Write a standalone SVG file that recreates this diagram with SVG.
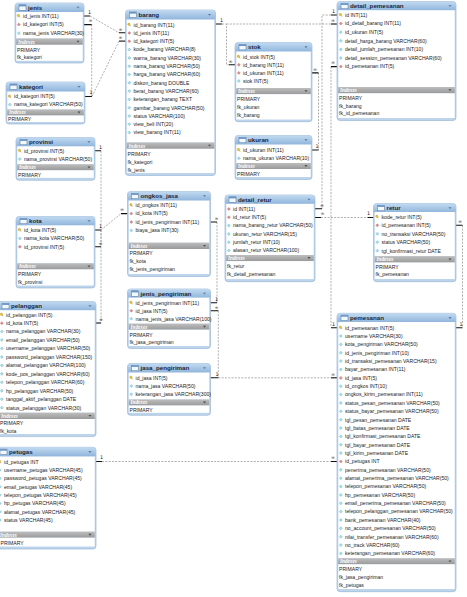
<svg xmlns="http://www.w3.org/2000/svg" width="467" height="597" viewBox="0 0 467 597">
<defs>
<linearGradient id="hg" x1="0" y1="0" x2="0" y2="1"><stop offset="0" stop-color="#c2daf1"/><stop offset="1" stop-color="#8db3da"/></linearGradient>
<linearGradient id="ig" x1="0" y1="0" x2="0" y2="1"><stop offset="0" stop-color="#bdbdbd"/><stop offset="1" stop-color="#9a9a9a"/></linearGradient>
<g id="pk"><circle cx="-0.4" cy="-0.5" r="1.2" fill="#f2c531" stroke="#a9850f" stroke-width="0.3"/><path d="M0.3 0.2 L1.3 1.6" stroke="#a9850f" stroke-width="0.6"/></g>
<g id="fk"><path d="M0 -1.5 L1.5 0 L0 1.5 L-1.5 0Z" fill="#e68c8c" stroke="#b04848" stroke-width="0.35"/></g>
<g id="co"><path d="M0 -1.5 L1.5 0 L0 1.5 L-1.5 0Z" fill="#a8e3e6" stroke="#3c9fae" stroke-width="0.35"/></g>
<g id="ti"><rect x="0" y="0" width="7" height="5.5" fill="#f2f7fc" stroke="#4b70a0" stroke-width="0.5"/><rect x="0" y="0" width="7" height="1.6" fill="#6a93c4"/></g>
<path id="tr" d="M-1.6 -0.9 H1.6 L0 1Z"/>
</defs>
<style>
.box{fill:#bdd4eb;stroke:#8fb0d2;stroke-width:0.6}
.hd{fill:url(#hg)}
.pn{fill:#ffffff}
.ix{fill:url(#ig)}
.tt{font-family:"Liberation Sans",Arial,sans-serif;font-size:6.2px;font-weight:bold;fill:#1c2736}
.c{font-family:"Liberation Sans",Arial,sans-serif;font-size:5.1px;fill:#222}
.ixt{font-family:"Liberation Serif","Times New Roman",serif;font-size:5.2px;font-style:italic;font-weight:bold;fill:#ffffff}
.trh{fill:#5a7ca6}
.tri{fill:#505050}
.lb{font-family:"DejaVu Sans",sans-serif;font-size:4.8px;fill:#111}
.dl{fill:none;stroke:#7a7a7a;stroke-width:0.6;stroke-dasharray:2 1.3}
.st{fill:none;stroke:#111;stroke-width:1.1}
</style>
<rect width="467" height="597" fill="#ffffff"/>

<!-- relationship lines -->
<g id="connectors">
<!-- jenis 1 : n barang -->
<path class="dl" d="M90 16 L119 32.8"/>
<path class="st" d="M84 16 H90 M119 32.8 H125.5"/>
<text class="lb" x="88" y="13.8">1</text><text class="lb" x="118.5" y="30.6">∞</text>
<!-- kategori 1 : n jenis -->
<path class="dl" d="M91.7 24.6 V96.5"/>
<path class="st" d="M84 24.6 H91.7 M85 96.5 H92"/>
<text class="lb" x="88.5" y="22.4">∞</text><text class="lb" x="89.5" y="94.4">1</text>
<!-- kategori 1 : n barang -->
<path class="dl" d="M92 96.5 L119 41.1"/>
<path class="st" d="M119 41.1 H125.5"/>
<text class="lb" x="118.5" y="38.9">∞</text>
<!-- barang 1 : n stok -->
<path class="dl" d="M222 24 H226.5 V64.8 H229"/>
<path class="st" d="M215.5 24 H222 M229 64.8 H235"/>
<text class="lb" x="220" y="21.8">1</text><text class="lb" x="228.5" y="62.6">∞</text>
<!-- barang 1 : n detail_pemesanan -->
<path class="dl" d="M226.5 24 H331"/>
<path class="st" d="M331 24 H337"/>
<text class="lb" x="331" y="21.8">∞</text>
<!-- detail_pemesanan 1 : n detail_retur -->
<path class="dl" d="M331 15 H322 V208.8"/>
<path class="st" d="M331 15 H337 M315 208.8 H322"/>
<text class="lb" x="332" y="12.8">1</text><text class="lb" x="320" y="206.6">∞</text>
<!-- pemesanan 1 : n detail_pemesanan -->
<path class="dl" d="M331 66.6 V327.7"/>
<path class="st" d="M331 66.6 H337 M331 327.7 H337"/>
<text class="lb" x="331" y="64.4">∞</text><text class="lb" x="332" y="325.5">1</text>
<!-- ukuran 1 : n stok -->
<path class="dl" d="M318.5 72.9 V150"/>
<path class="st" d="M312 72.9 H318.5 M312 150 H318.5"/>
<text class="lb" x="313" y="70.7">∞</text><text class="lb" x="315.5" y="147.8">1</text>
<!-- retur 1 : n detail_retur -->
<path class="dl" d="M321 217.5 H367.5"/>
<path class="st" d="M315 217.5 H321 M367.5 217.5 H373.5"/>
<text class="lb" x="320.5" y="215.3">∞</text><text class="lb" x="367" y="215.3">1</text>
<!-- pemesanan 1 : n retur -->
<path class="dl" d="M462.5 225.3 V327.7"/>
<path class="st" d="M456 225.3 H462.5 M456 327.7 H462.5"/>
<text class="lb" x="458" y="223.1">∞</text><text class="lb" x="459.5" y="325.5">1</text>
<!-- provinsi 1 : n kota -->
<path class="dl" d="M101 150.8 V246.8"/>
<path class="st" d="M95 150.8 H101 M95 246.8 H101"/>
<text class="lb" x="99" y="148.6">1</text><text class="lb" x="98.5" y="244.6">∞</text>
<!-- kota 1 : n ongkos_jasa -->
<path class="dl" d="M101 230 L121 213.6"/>
<path class="st" d="M95 230 H101 M121 213.6 H127.5"/>
<text class="lb" x="99" y="227.8">1</text><text class="lb" x="120" y="211.4">∞</text>
<!-- kota 1 : n pelanggan -->
<path class="dl" d="M101 230 V323"/>
<path class="st" d="M96 323 H101"/>
<text class="lb" x="99" y="320.8">∞</text>
<!-- jenis_pengiriman 1 : n ongkos_jasa -->
<path class="dl" d="M217 222 V302.7"/>
<path class="st" d="M210.5 222 H217 M210.5 302.7 H217"/>
<text class="lb" x="214.5" y="219.8">∞</text><text class="lb" x="215" y="300.5">1</text>
<!-- jasa_pengiriman 1 : n jenis_pengiriman -->
<path class="dl" d="M218.3 310.7 V377.8"/>
<path class="st" d="M210.5 310.7 H218.3 M210.5 377.8 H218.3"/>
<text class="lb" x="214.5" y="308.5">∞</text><text class="lb" x="215.5" y="375.6">1</text>
<!-- jasa_pengiriman 1 : n pemesanan -->
<path class="dl" d="M218.3 377.8 H331"/>
<path class="st" d="M331 377.8 H337"/>
<text class="lb" x="331" y="375.6">∞</text>
<!-- petugas 1 : n pemesanan -->
<path class="dl" d="M102 461.5 H331"/>
<path class="st" d="M96 461.5 H102 M331 461.5 H337"/>
<text class="lb" x="100" y="459.3">1</text><text class="lb" x="331" y="459.3">∞</text>
</g>

<!-- jenis -->
<g id="tbl-jenis">
<rect class="box" x="15" y="3" width="69" height="60" rx="3"/>
<rect class="hd" x="15" y="3" width="69" height="9.5" rx="3"/>
<use href="#ti" x="19" y="4.8"/>
<text class="tt" x="28" y="9.8">jenis</text>
<use href="#tr" class="trh" x="78" y="7.6"/>
<rect class="pn" x="16.3" y="12" width="66.4" height="26.5"/>
<use href="#pk" x="18.8" y="16"/><text class="c" x="23" y="17.8">id_jenis INT(11)</text>
<use href="#fk" x="18.8" y="24.6"/><text class="c" x="23" y="26.4">id_kategori INT(5)</text>
<use href="#co" x="18.8" y="33.2"/><text class="c" x="23" y="35">nama_jenis VARCHAR(30)</text>
<rect class="ix" x="16.3" y="38.5" width="66.4" height="6.3"/>
<text class="ixt" x="18" y="43.6">Indexes</text>
<use href="#tr" class="tri" x="78" y="41.6"/>
<rect class="pn" x="16.3" y="44.8" width="66.4" height="16"/>
<text class="c" x="17" y="51.8">PRIMARY</text>
<text class="c" x="17" y="59.3">fk_kategori</text>
</g>

<!-- kategori -->
<g id="tbl-kategori">
<rect class="box" x="6" y="82" width="79" height="42" rx="3"/>
<rect class="hd" x="6" y="82" width="79" height="10" rx="3"/>
<use href="#ti" x="10" y="84"/>
<text class="tt" x="19" y="89">kategori</text>
<use href="#tr" class="trh" x="79" y="86.8"/>
<rect class="pn" x="7.3" y="91.5" width="76.4" height="18"/>
<use href="#pk" x="9.8" y="96.5"/><text class="c" x="14" y="98.3">id_kategori INT(5)</text>
<use href="#co" x="9.8" y="104.6"/><text class="c" x="14" y="106.4">nama_kategori VARCHAR(50)</text>
<rect class="ix" x="7.3" y="109.5" width="76.4" height="6"/>
<text class="ixt" x="9" y="114.4">Indexes</text>
<use href="#tr" class="tri" x="79" y="112.5"/>
<rect class="pn" x="7.3" y="115.5" width="76.4" height="6.5"/>
<text class="c" x="8" y="121">PRIMARY</text>
</g>

<!-- barang -->
<g id="tbl-barang">
<rect class="box" x="125.5" y="10" width="90" height="165.5" rx="3"/>
<rect class="hd" x="125.5" y="10" width="90" height="10" rx="3"/>
<use href="#ti" x="129.5" y="12"/>
<text class="tt" x="138.5" y="17">barang</text>
<use href="#tr" class="trh" x="209.5" y="14.8"/>
<rect class="pn" x="126.8" y="19.5" width="87.4" height="123"/>
<use href="#pk" x="129.3" y="24.7"/><text class="c" x="133.5" y="26.5">id_barang INT(11)</text>
<use href="#fk" x="129.3" y="33"/><text class="c" x="133.5" y="34.8">id_jenis INT(11)</text>
<use href="#fk" x="129.3" y="41.3"/><text class="c" x="133.5" y="43.1">id_kategori INT(5)</text>
<use href="#co" x="129.3" y="49.6"/><text class="c" x="133.5" y="51.4">kode_barang VARCHAR(8)</text>
<use href="#co" x="129.3" y="57.9"/><text class="c" x="133.5" y="59.7">warna_barang VARCHAR(30)</text>
<use href="#co" x="129.3" y="66.2"/><text class="c" x="133.5" y="68">nama_barang VARCHAR(50)</text>
<use href="#co" x="129.3" y="74.5"/><text class="c" x="133.5" y="76.3">harga_barang VARCHAR(60)</text>
<use href="#co" x="129.3" y="82.8"/><text class="c" x="133.5" y="84.6">diskon_barang DOUBLE</text>
<use href="#co" x="129.3" y="91.1"/><text class="c" x="133.5" y="92.9">berat_barang VARCHAR(60)</text>
<use href="#co" x="129.3" y="99.4"/><text class="c" x="133.5" y="101.2">keterangan_barang TEXT</text>
<use href="#co" x="129.3" y="107.7"/><text class="c" x="133.5" y="109.5">gambar_barang VARCHAR(50)</text>
<use href="#co" x="129.3" y="116"/><text class="c" x="133.5" y="117.8">status VARCHAR(100)</text>
<use href="#co" x="129.3" y="124.3"/><text class="c" x="133.5" y="126.1">view_beli INT(20)</text>
<use href="#co" x="129.3" y="132.6"/><text class="c" x="133.5" y="134.4">view_barang INT(11)</text>
<rect class="ix" x="126.8" y="142.5" width="87.4" height="6.3"/>
<text class="ixt" x="128.5" y="147.6">Indexes</text>
<use href="#tr" class="tri" x="209.5" y="145.6"/>
<rect class="pn" x="126.8" y="148.8" width="87.4" height="24.2"/>
<text class="c" x="127.5" y="156.1">PRIMARY</text>
<text class="c" x="127.5" y="164.1">fk_kategori</text>
<text class="c" x="127.5" y="172.1">fk_jenis</text>
</g>

<!-- stok -->
<g id="tbl-stok">
<rect class="box" x="235" y="42.5" width="77" height="79.2" rx="3"/>
<rect class="hd" x="235" y="42.5" width="77" height="9.8" rx="3"/>
<use href="#ti" x="239" y="44.4"/>
<text class="tt" x="248" y="49.4">stok</text>
<use href="#tr" class="trh" x="306" y="47.2"/>
<rect class="pn" x="236.3" y="51.5" width="74.4" height="36.5"/>
<use href="#pk" x="238.8" y="56.7"/><text class="c" x="243" y="58.5">id_stok INT(5)</text>
<use href="#fk" x="238.8" y="64.8"/><text class="c" x="243" y="66.6">id_barang INT(11)</text>
<use href="#fk" x="238.8" y="72.9"/><text class="c" x="243" y="74.7">id_ukuran INT(11)</text>
<use href="#co" x="238.8" y="81"/><text class="c" x="243" y="82.8">stok INT(5)</text>
<rect class="ix" x="236.3" y="88" width="74.4" height="6.2"/>
<text class="ixt" x="238" y="93">Indexes</text>
<use href="#tr" class="tri" x="306" y="91.1"/>
<rect class="pn" x="236.3" y="94.2" width="74.4" height="25.3"/>
<text class="c" x="237" y="101.3">PRIMARY</text>
<text class="c" x="237" y="109.1">fk_ukuran</text>
<text class="c" x="237" y="116.9">fk_barang</text>
</g>

<!-- ukuran -->
<g id="tbl-ukuran">
<rect class="box" x="235" y="135.5" width="77" height="44" rx="3"/>
<rect class="hd" x="235" y="135.5" width="77" height="9.5" rx="3"/>
<use href="#ti" x="239" y="137.3"/>
<text class="tt" x="248" y="142.3">ukuran</text>
<use href="#tr" class="trh" x="306" y="140.1"/>
<rect class="pn" x="236.3" y="144.5" width="74.4" height="18.5"/>
<use href="#pk" x="238.8" y="150"/><text class="c" x="243" y="151.8">id_ukuran INT(11)</text>
<use href="#co" x="238.8" y="158.3"/><text class="c" x="243" y="160.1">nama_ukuran VARCHAR(10)</text>
<rect class="ix" x="236.3" y="163" width="74.4" height="6"/>
<text class="ixt" x="238" y="167.9">Indexes</text>
<use href="#tr" class="tri" x="306" y="166"/>
<rect class="pn" x="236.3" y="169" width="74.4" height="8"/>
<text class="c" x="237" y="175.6">PRIMARY</text>
</g>

<!-- detail_pemesanan -->
<g id="tbl-detail_pemesanan">
<rect class="box" x="337" y="1.5" width="119" height="119" rx="3"/>
<rect class="hd" x="337" y="1.5" width="119" height="9.5" rx="3"/>
<use href="#ti" x="341" y="3.3"/>
<text class="tt" x="350" y="8.4">detail_pemesanan</text>
<use href="#tr" class="trh" x="450" y="6.1"/>
<rect class="pn" x="338.3" y="10.2" width="116.4" height="76.8"/>
<use href="#pk" x="340.8" y="15"/><text class="c" x="345" y="16.8">id INT(11)</text>
<use href="#fk" x="340.8" y="23.6"/><text class="c" x="345" y="25.4">id_detail_barang INT(11)</text>
<use href="#co" x="340.8" y="32.2"/><text class="c" x="345" y="34">id_ukuran INT(5)</text>
<use href="#co" x="340.8" y="40.8"/><text class="c" x="345" y="42.6">detail_harga_barang VARCHAR(60)</text>
<use href="#co" x="340.8" y="49.4"/><text class="c" x="345" y="51.2">detail_jumlah_pemesanan INT(10)</text>
<use href="#co" x="340.8" y="58"/><text class="c" x="345" y="59.8">detail_session_pemesanan VARCHAR(60)</text>
<use href="#fk" x="340.8" y="66.6"/><text class="c" x="345" y="68.4">id_pemesanan INT(5)</text>
<rect class="ix" x="338.3" y="87" width="116.4" height="6.3"/>
<text class="ixt" x="340" y="92.1">Indexes</text>
<use href="#tr" class="tri" x="450" y="90.1"/>
<rect class="pn" x="338.3" y="93.3" width="116.4" height="24.7"/>
<text class="c" x="339" y="100.1">PRIMARY</text>
<text class="c" x="339" y="107.7">fk_barang</text>
<text class="c" x="339" y="115.4">fk_id_pemesanan</text>
</g>

<!-- provinsi -->
<g id="tbl-provinsi">
<rect class="box" x="16" y="137.5" width="79" height="42.8" rx="3"/>
<rect class="hd" x="16" y="137.5" width="79" height="9.5" rx="3"/>
<use href="#ti" x="20" y="139.3"/>
<text class="tt" x="29" y="144.4">provinsi</text>
<use href="#tr" class="trh" x="89" y="142.1"/>
<rect class="pn" x="17.3" y="146.3" width="76.4" height="18"/>
<use href="#pk" x="19.8" y="150.8"/><text class="c" x="24" y="152.6">id_provinsi INT(5)</text>
<use href="#co" x="19.8" y="159.1"/><text class="c" x="24" y="160.9">nama_provinsi VARCHAR(50)</text>
<rect class="ix" x="17.3" y="164.3" width="76.4" height="6"/>
<text class="ixt" x="19" y="169.2">Indexes</text>
<use href="#tr" class="tri" x="89" y="167.3"/>
<rect class="pn" x="17.3" y="170.3" width="76.4" height="7.5"/>
<text class="c" x="18" y="176.8">PRIMARY</text>
</g>

<!-- kota -->
<g id="tbl-kota">
<rect class="box" x="16" y="216.5" width="79" height="71.5" rx="3"/>
<rect class="hd" x="16" y="216.5" width="79" height="9.5" rx="3"/>
<use href="#ti" x="20" y="218.3"/>
<text class="tt" x="29" y="223.4">kota</text>
<use href="#tr" class="trh" x="89" y="221.1"/>
<rect class="pn" x="17.3" y="225.3" width="76.4" height="38"/>
<use href="#pk" x="19.8" y="230"/><text class="c" x="24" y="231.8">id_kota INT(5)</text>
<use href="#co" x="19.8" y="238.4"/><text class="c" x="24" y="240.2">nama_kota VARCHAR(50)</text>
<use href="#fk" x="19.8" y="246.8"/><text class="c" x="24" y="248.6">id_provinsi INT(5)</text>
<rect class="ix" x="17.3" y="263.3" width="76.4" height="6.1"/>
<text class="ixt" x="19" y="268.3">Indexes</text>
<use href="#tr" class="tri" x="89" y="266.3"/>
<rect class="pn" x="17.3" y="269.4" width="76.4" height="16.1"/>
<text class="c" x="18" y="276.2">PRIMARY</text>
<text class="c" x="18" y="283.9">fk_provinsi</text>
</g>

<!-- ongkos_jasa -->
<g id="tbl-ongkos_jasa">
<rect class="box" x="127.5" y="191.5" width="83" height="85" rx="3"/>
<rect class="hd" x="127.5" y="191.5" width="83" height="9.5" rx="3"/>
<use href="#ti" x="131.5" y="193.3"/>
<text class="tt" x="140.5" y="198.4">ongkos_jasa</text>
<use href="#tr" class="trh" x="204.5" y="196.1"/>
<rect class="pn" x="128.8" y="200.5" width="80.4" height="42.2"/>
<use href="#pk" x="131.3" y="205.2"/><text class="c" x="135.5" y="207">id_ongkos INT(11)</text>
<use href="#fk" x="131.3" y="213.6"/><text class="c" x="135.5" y="215.4">id_kota INT(5)</text>
<use href="#fk" x="131.3" y="222"/><text class="c" x="135.5" y="223.8">id_jenis_pengiriman INT(11)</text>
<use href="#co" x="131.3" y="230.4"/><text class="c" x="135.5" y="232.2">biaya_jasa INT(30)</text>
<rect class="ix" x="128.8" y="242.7" width="80.4" height="6.3"/>
<text class="ixt" x="130.5" y="247.8">Indexes</text>
<use href="#tr" class="tri" x="204.5" y="245.8"/>
<rect class="pn" x="128.8" y="249" width="80.4" height="25"/>
<text class="c" x="129.5" y="255.2">PRIMARY</text>
<text class="c" x="129.5" y="263">fk_kota</text>
<text class="c" x="129.5" y="271">fk_jenis_pengiriman</text>
</g>

<!-- jenis_pengiriman -->
<g id="tbl-jenis_pengiriman">
<rect class="box" x="127.5" y="289" width="83" height="59.5" rx="3"/>
<rect class="hd" x="127.5" y="289" width="83" height="9.5" rx="3"/>
<use href="#ti" x="131.5" y="290.8"/>
<text class="tt" x="140.5" y="295.9">jenis_pengiriman</text>
<use href="#tr" class="trh" x="204.5" y="293.6"/>
<rect class="pn" x="128.8" y="297.6" width="80.4" height="26.1"/>
<use href="#pk" x="131.3" y="302.7"/><text class="c" x="135.5" y="304.5">id_jenis_pengiriman INT(11)</text>
<use href="#fk" x="131.3" y="310.7"/><text class="c" x="135.5" y="312.5">id_jasa INT(5)</text>
<use href="#co" x="131.3" y="318.7"/><text class="c" x="135.5" y="320.5">nama_jenis_jasa VARCHAR(100)</text>
<rect class="ix" x="128.8" y="323.7" width="80.4" height="6"/>
<text class="ixt" x="130.5" y="328.6">Indexes</text>
<use href="#tr" class="tri" x="204.5" y="326.7"/>
<rect class="pn" x="128.8" y="329.7" width="80.4" height="16.3"/>
<text class="c" x="129.5" y="336.6">PRIMARY</text>
<text class="c" x="129.5" y="344.4">fk_jasa_pengiriman</text>
</g>

<!-- jasa_pengiriman -->
<g id="tbl-jasa_pengiriman">
<rect class="box" x="127.5" y="363.5" width="83" height="51.8" rx="3"/>
<rect class="hd" x="127.5" y="363.5" width="83" height="9.5" rx="3"/>
<use href="#ti" x="131.5" y="365.3"/>
<text class="tt" x="140.5" y="370.4">jasa_pengiriman</text>
<use href="#tr" class="trh" x="204.5" y="368.1"/>
<rect class="pn" x="128.8" y="372.5" width="80.4" height="27"/>
<use href="#pk" x="131.3" y="377.7"/><text class="c" x="135.5" y="379.5">id_jasa INT(5)</text>
<use href="#co" x="131.3" y="386"/><text class="c" x="135.5" y="387.8">nama_jasa VARCHAR(50)</text>
<use href="#co" x="131.3" y="394.3"/><text class="c" x="135.5" y="396.1">keterangan_jasa VARCHAR(300)</text>
<rect class="ix" x="128.8" y="399.5" width="80.4" height="6"/>
<text class="ixt" x="130.5" y="404.4">Indexes</text>
<use href="#tr" class="tri" x="204.5" y="402.5"/>
<rect class="pn" x="128.8" y="405.5" width="80.4" height="7.3"/>
<text class="c" x="129.5" y="412">PRIMARY</text>
</g>

<!-- detail_retur -->
<g id="tbl-detail_retur">
<rect class="box" x="225" y="195" width="90" height="86.7" rx="3"/>
<rect class="hd" x="225" y="195" width="90" height="9.5" rx="3"/>
<use href="#ti" x="229" y="196.8"/>
<text class="tt" x="238" y="201.9">detail_retur</text>
<use href="#tr" class="trh" x="309" y="199.6"/>
<rect class="pn" x="226.3" y="203.8" width="87.4" height="51.2"/>
<use href="#fk" x="228.8" y="209"/><text class="c" x="233" y="210.8">id INT(11)</text>
<use href="#fk" x="228.8" y="217.3"/><text class="c" x="233" y="219.1">id_retur INT(5)</text>
<use href="#co" x="228.8" y="225.6"/><text class="c" x="233" y="227.4">nama_barang_retur VARCHAR(50)</text>
<use href="#co" x="228.8" y="233.9"/><text class="c" x="233" y="235.7">ukuran_retur VARCHAR(15)</text>
<use href="#co" x="228.8" y="242.2"/><text class="c" x="233" y="244">jumlah_retur INT(10)</text>
<use href="#co" x="228.8" y="250.5"/><text class="c" x="233" y="252.3">alasan_retur VARCHAR(100)</text>
<rect class="ix" x="226.3" y="255" width="87.4" height="6.1"/>
<text class="ixt" x="228" y="260">Indexes</text>
<use href="#tr" class="tri" x="309" y="258"/>
<rect class="pn" x="226.3" y="261.1" width="87.4" height="18"/>
<text class="c" x="227" y="267.8">fk_retur</text>
<text class="c" x="227" y="276.1">fk_detail_pemesanan</text>
</g>

<!-- retur -->
<g id="tbl-retur">
<rect class="box" x="373.5" y="203.5" width="82.5" height="78.2" rx="3"/>
<rect class="hd" x="373.5" y="203.5" width="82.5" height="9.5" rx="3"/>
<use href="#ti" x="377.5" y="205.3"/>
<text class="tt" x="386.5" y="210.4">retur</text>
<use href="#tr" class="trh" x="450" y="208.1"/>
<rect class="pn" x="374.8" y="212" width="79.9" height="44.2"/>
<use href="#pk" x="377.3" y="216.8"/><text class="c" x="381.5" y="218.6">kode_retur INT(5)</text>
<use href="#fk" x="377.3" y="225.3"/><text class="c" x="381.5" y="227.1">id_pemesanan INT(5)</text>
<use href="#co" x="377.3" y="233.8"/><text class="c" x="381.5" y="235.6">no_transaksi VARCHAR(50)</text>
<use href="#co" x="377.3" y="242.2"/><text class="c" x="381.5" y="244">status VARCHAR(50)</text>
<use href="#co" x="377.3" y="250.7"/><text class="c" x="381.5" y="252.5">tgl_konfirmasi_retur DATE</text>
<rect class="ix" x="374.8" y="256.2" width="79.9" height="6.3"/>
<text class="ixt" x="376.5" y="261.3">Indexes</text>
<use href="#tr" class="tri" x="450" y="259.3"/>
<rect class="pn" x="374.8" y="262.5" width="79.9" height="16.5"/>
<text class="c" x="375.5" y="268.5">PRIMARY</text>
<text class="c" x="375.5" y="276.2">fk_pemesanan</text>
</g>

<!-- pelanggan -->
<g id="tbl-pelanggan">
<rect class="box" x="-2" y="301.5" width="98" height="135.1" rx="3"/>
<rect class="hd" x="-2" y="301.5" width="98" height="9.5" rx="3"/>
<use href="#ti" x="2" y="303.3"/>
<text class="tt" x="11" y="308.4">pelanggan</text>
<use href="#tr" class="trh" x="90" y="306.1"/>
<rect class="pn" x="-0.7" y="310.2" width="95.4" height="102.5"/>
<use href="#pk" x="1.8" y="314.7"/><text class="c" x="6" y="316.5">id_pelanggan INT(5)</text>
<use href="#fk" x="1.8" y="323.15"/><text class="c" x="6" y="325">id_kota INT(5)</text>
<use href="#co" x="1.8" y="331.6"/><text class="c" x="6" y="333.4">nama_pelanggan VARCHAR(30)</text>
<use href="#co" x="1.8" y="340.05"/><text class="c" x="6" y="341.9">email_pelanggan VARCHAR(50)</text>
<use href="#co" x="1.8" y="348.5"/><text class="c" x="6" y="350.3">username_pelanggan VARCHAR(50)</text>
<use href="#co" x="1.8" y="356.95"/><text class="c" x="6" y="358.8">password_pelanggan VARCHAR(150)</text>
<use href="#co" x="1.8" y="365.4"/><text class="c" x="6" y="367.2">alamat_pelanggan VARCHAR(100)</text>
<use href="#co" x="1.8" y="373.85"/><text class="c" x="6" y="375.7">kode_pos_pelanggan VARCHAR(60)</text>
<use href="#co" x="1.8" y="382.3"/><text class="c" x="6" y="384.1">telepon_pelanggan VARCHAR(60)</text>
<use href="#co" x="1.8" y="390.75"/><text class="c" x="6" y="392.6">hp_pelanggan VARCHAR(50)</text>
<use href="#co" x="1.8" y="399.2"/><text class="c" x="6" y="401">tanggal_aktif_pelanggan DATE</text>
<use href="#co" x="1.8" y="407.65"/><text class="c" x="6" y="409.5">status_pelanggan VARCHAR(30)</text>
<rect class="ix" x="-0.7" y="412.7" width="95.4" height="6.3"/>
<text class="ixt" x="1" y="417.8">Indexes</text>
<use href="#tr" class="tri" x="90" y="415.8"/>
<rect class="pn" x="-0.7" y="419" width="95.4" height="15"/>
<text class="c" x="0" y="425.1">PRIMARY</text>
<text class="c" x="0" y="432.8">fk_kota</text>
</g>

<!-- petugas -->
<g id="tbl-petugas">
<rect class="box" x="-4" y="447.3" width="100" height="101.7" rx="3"/>
<rect class="hd" x="-4" y="447.3" width="100" height="9.5" rx="3"/>
<use href="#ti" x="0" y="449.1"/>
<text class="tt" x="9" y="454.2">petugas</text>
<use href="#tr" class="trh" x="90" y="451.9"/>
<rect class="pn" x="-2.7" y="456.5" width="97.4" height="75.2"/>
<use href="#pk" x="-0.2" y="461.7"/><text class="c" x="4" y="463.5">id_petugas INT</text>
<use href="#co" x="-0.2" y="470"/><text class="c" x="4" y="471.8">username_petugas VARCHAR(45)</text>
<use href="#co" x="-0.2" y="478.4"/><text class="c" x="4" y="480.2">password_petugas VARCHAR(45)</text>
<use href="#co" x="-0.2" y="486.7"/><text class="c" x="4" y="488.5">email_petugas VARCHAR(45)</text>
<use href="#co" x="-0.2" y="495"/><text class="c" x="4" y="496.8">telepon_petugas VARCHAR(45)</text>
<use href="#co" x="-0.2" y="503.4"/><text class="c" x="4" y="505.2">hp_petugas VARCHAR(45)</text>
<use href="#co" x="-0.2" y="511.7"/><text class="c" x="4" y="513.5">alamat_petugas VARCHAR(45)</text>
<use href="#co" x="-0.2" y="520"/><text class="c" x="4" y="521.8">status VARCHAR(45)</text>
<rect class="ix" x="-2.7" y="531.7" width="97.4" height="6"/>
<text class="ixt" x="0" y="536.6">Indexes</text>
<use href="#tr" class="tri" x="90" y="534.7"/>
<rect class="pn" x="-2.7" y="537.7" width="97.4" height="8.8"/>
<text class="c" x="0.5" y="545.1">PRIMARY</text>
</g>

<!-- pemesanan -->
<g id="tbl-pemesanan">
<rect class="box" x="337" y="313.3" width="119" height="278.4" rx="3"/>
<rect class="hd" x="337" y="313.3" width="119" height="9.5" rx="3"/>
<use href="#ti" x="341" y="315.1"/>
<text class="tt" x="350" y="320.2">pemesanan</text>
<use href="#tr" class="trh" x="450" y="317.9"/>
<rect class="pn" x="338.3" y="322" width="116.4" height="236.3"/>
<use href="#pk" x="340.8" y="327.7"/><text class="c" x="345" y="329.5">id_pemesanan INT(5)</text>
<use href="#co" x="340.8" y="336.1"/><text class="c" x="345" y="337.9">username VARCHAR(30)</text>
<use href="#co" x="340.8" y="344.4"/><text class="c" x="345" y="346.2">kota_pengiriman VARCHAR(50)</text>
<use href="#co" x="340.8" y="352.8"/><text class="c" x="345" y="354.6">id_jenis_pengiriman INT(10)</text>
<use href="#co" x="340.8" y="361.1"/><text class="c" x="345" y="362.9">id_transaksi_pemesanan VARCHAR(15)</text>
<use href="#co" x="340.8" y="369.5"/><text class="c" x="345" y="371.3">bayar_pemesanan INT(11)</text>
<use href="#fk" x="340.8" y="377.9"/><text class="c" x="345" y="379.7">id_jasa INT(5)</text>
<use href="#co" x="340.8" y="386.2"/><text class="c" x="345" y="388">id_ongkos INT(10)</text>
<use href="#co" x="340.8" y="394.6"/><text class="c" x="345" y="396.4">ongkos_kirim_pemesanan INT(11)</text>
<use href="#co" x="340.8" y="402.9"/><text class="c" x="345" y="404.7">status_pesan_pemesanan VARCHAR(50)</text>
<use href="#co" x="340.8" y="411.3"/><text class="c" x="345" y="413.1">status_bayar_pemesanan VARCHAR(50)</text>
<use href="#co" x="340.8" y="419.7"/><text class="c" x="345" y="421.5">tgl_pesan_pemesanan DATE</text>
<use href="#co" x="340.8" y="428"/><text class="c" x="345" y="429.8">tgl_batas_pemesanan DATE</text>
<use href="#co" x="340.8" y="436.4"/><text class="c" x="345" y="438.2">tgl_konfirmasi_pemesanan DATE</text>
<use href="#co" x="340.8" y="444.7"/><text class="c" x="345" y="446.5">tgl_bayar_pemesanan DATE</text>
<use href="#co" x="340.8" y="453.1"/><text class="c" x="345" y="454.9">tgl_kirim_pemesanan DATE</text>
<use href="#fk" x="340.8" y="461.5"/><text class="c" x="345" y="463.3">id_petugas INT</text>
<use href="#co" x="340.8" y="469.8"/><text class="c" x="345" y="471.6">penerima_pemesanan VARCHAR(50)</text>
<use href="#co" x="340.8" y="478.2"/><text class="c" x="345" y="480">alamat_penerima_pemesanan VARCHAR(50)</text>
<use href="#co" x="340.8" y="486.5"/><text class="c" x="345" y="488.3">telepon_pemesanan VARCHAR(50)</text>
<use href="#co" x="340.8" y="494.9"/><text class="c" x="345" y="496.7">hp_pemesanan VARCHAR(50)</text>
<use href="#co" x="340.8" y="503.3"/><text class="c" x="345" y="505.1">email_penerima_pemesanan VARCHAR(50)</text>
<use href="#co" x="340.8" y="511.6"/><text class="c" x="345" y="513.4">telepon_pelanggan_pemesanan VARCHAR(50)</text>
<use href="#co" x="340.8" y="520"/><text class="c" x="345" y="521.8">bank_pemesanan VARCHAR(40)</text>
<use href="#co" x="340.8" y="528.3"/><text class="c" x="345" y="530.1">no_account_pemesanan VARCHAR(50)</text>
<use href="#co" x="340.8" y="536.7"/><text class="c" x="345" y="538.5">nilai_transfer_pemesanan VARCHAR(60)</text>
<use href="#co" x="340.8" y="545.1"/><text class="c" x="345" y="546.9">no_track VARCHAR(60)</text>
<use href="#co" x="340.8" y="553.4"/><text class="c" x="345" y="555.2">keterangan_pemesanan VARCHAR(60)</text>
<rect class="ix" x="338.3" y="558.3" width="116.4" height="6"/>
<text class="ixt" x="340" y="563.2">Indexes</text>
<use href="#tr" class="tri" x="450" y="561.3"/>
<rect class="pn" x="338.3" y="564.3" width="116.4" height="24.7"/>
<text class="c" x="339" y="571.1">PRIMARY</text>
<text class="c" x="339" y="578.8">fk_jasa_pengiriman</text>
<text class="c" x="339" y="586.8">fk_petugas</text>
</g>
</svg>
